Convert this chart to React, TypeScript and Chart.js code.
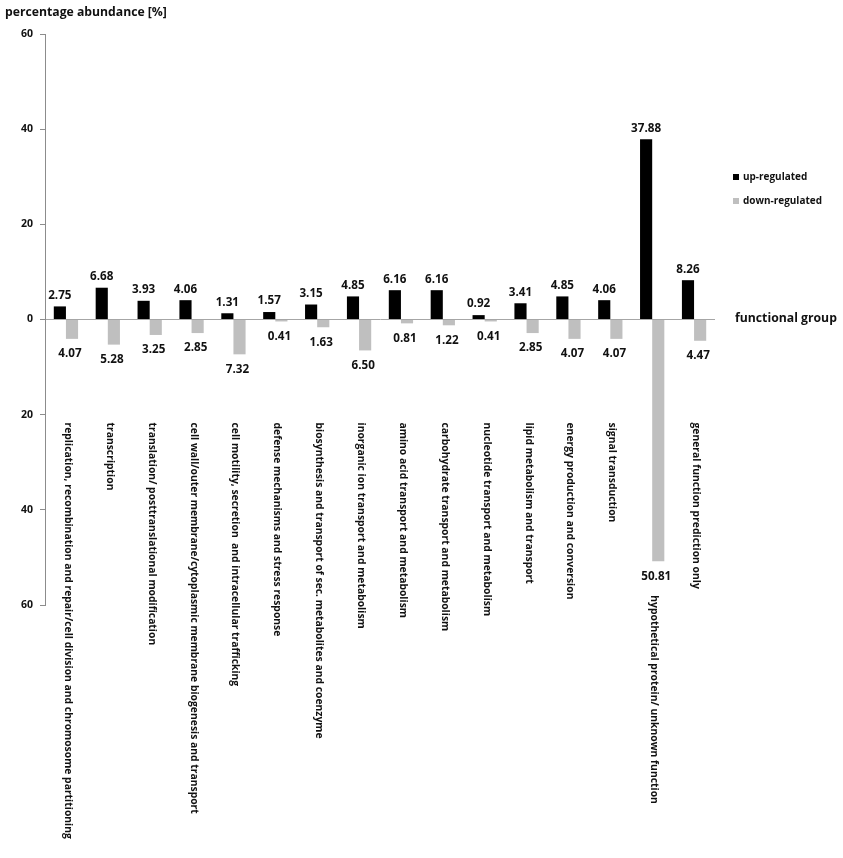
import { useEffect, useRef } from 'react';
import { Chart, registerables, Plugin } from 'chart.js';

Chart.register(...registerables);

const categories = [
    'replication, recombination and repair/cell division and chromosome partitioning',
    'transcription',
    'translation/ posttranslational modification',
    'cell wall/outer membrane/cytoplasmic membrane biogenesis and transport',
    'cell motility, secretion  and intracellular trafficking',
    'defense mechanisms and stress response',
    'biosynthesis and transport of sec. metabolites and coenzyme',
    'inorganic ion transport and metabolism',
    'amino acid transport and metabolism',
    'carbohydrate transport and metabolism',
    'nucleotide transport and metabolism',
    'lipid metabolism and transport',
    'energy production and conversion',
    'signal transduction',
    'hypothetical protein/ unknown function',
    'general function prediction only',
];

const upRegulated = [2.75, 6.68, 3.93, 4.06, 1.31, 1.57, 3.15, 4.85, 6.16, 6.16, 0.92, 3.41, 4.85, 4.06, 37.88, 8.26];
const downRegulated = [4.07, 5.28, 3.25, 2.85, 7.32, 0.41, 1.63, 6.50, 0.81, 1.22, 0.41, 2.85, 4.07, 4.07, 50.81, 4.47];

const seriesNames = ['up-regulated', 'down-regulated'];
const seriesColors = ['#000000', '#bfbfbf'];
const yTickValues = [-60, -40, -20, 0, 20, 40, 60];

const FONT = '"Open Sans", Lato, sans-serif';

// pick a font size so that a sample string comes out at the width seen in the picture
const fitSize = (ctx: CanvasRenderingContext2D, text: string, width: number) => {
    ctx.font = `bold 10px ${FONT}`;
    return (10 * width) / ctx.measureText(text).width;
};

const annotations: Plugin<'bar'> = {
    id: 'annotations',
    afterDatasetsDraw(chart) {
        const ctx = chart.ctx;
        const yScale = chart.scales.y;
        const zeroY = yScale.getPixelForValue(0);
        ctx.save();
        const valueSize = fitSize(ctx, '37.88', 30);
        const catSize = fitSize(ctx, categories[0], 417);
        const titleSize = fitSize(ctx, 'percentage abundance [%]', 162);
        const groupSize = fitSize(ctx, 'functional group', 102);
        const legendSize = fitSize(ctx, seriesNames[1], 79);

        ctx.fillStyle = '#111';
        ctx.textAlign = 'center';
        ctx.textBaseline = 'middle';
        ctx.font = `bold ${valueSize}px ${FONT}`;

        // value labels
        const upMeta = chart.getDatasetMeta(0);
        const downMeta = chart.getDatasetMeta(1);
        const downLabelY: number[] = [];
        upMeta.data.forEach((bar, i) => {
            ctx.fillText(upRegulated[i].toFixed(2), bar.x, bar.y - 11);
        });
        downMeta.data.forEach((bar, i) => {
            const ly = bar.y + 15;
            downLabelY.push(ly);
            ctx.fillText(downRegulated[i].toFixed(2), bar.x - 2, ly);
        });

        // category labels, rotated to read downwards
        const xScale = chart.scales.x;
        const bandTop = zeroY + 103;
        ctx.textAlign = 'left';
        ctx.font = `bold ${catSize}px ${FONT}`;
        categories.forEach((name, i) => {
            const x = xScale.getPixelForValue(i) + 2;
            const y = Math.max(bandTop, downLabelY[i] + 19);
            ctx.save();
            ctx.translate(x, y);
            ctx.rotate(Math.PI / 2);
            ctx.fillText(name, 0, 0);
            ctx.restore();
        });

        // axis titles
        ctx.font = `bold ${titleSize}px ${FONT}`;
        ctx.fillText('percentage abundance [%]', 5, 13);
        ctx.font = `bold ${groupSize}px ${FONT}`;
        ctx.fillText('functional group', 735, zeroY - 1);

        // legend
        ctx.font = `bold ${legendSize}px ${FONT}`;
        seriesNames.forEach((name, i) => {
            const cy = 177 + i * 24;
            ctx.fillStyle = seriesColors[i];
            ctx.fillRect(733, cy - 3, 6, 6);
            ctx.fillStyle = '#111';
            ctx.fillText(name, 743, cy);
        });
        ctx.restore();
    },
};

const App = () => {
    const canvasRef = useRef<HTMLCanvasElement | null>(null);
    const chartRef = useRef<Chart | null>(null);

    useEffect(() => {
        if (!canvasRef.current) return;
        if (chartRef.current) chartRef.current.destroy();
        const ctx = canvasRef.current.getContext('2d');
        if (!ctx) return;

        chartRef.current = new Chart(ctx, {
            type: 'bar',
            data: {
                labels: categories,
                datasets: [
                    {
                        label: seriesNames[0],
                        data: upRegulated,
                        backgroundColor: seriesColors[0],
                        categoryPercentage: 0.58,
                        barPercentage: 1,
                    },
                    {
                        label: seriesNames[1],
                        data: downRegulated.map((v) => -v),
                        backgroundColor: seriesColors[1],
                        categoryPercentage: 0.58,
                        barPercentage: 1,
                    },
                ],
            },
            options: {
                animation: false,
                responsive: true,
                maintainAspectRatio: false,
                layout: {
                    padding: { left: 0, right: 128, top: 34, bottom: 253 },
                },
                plugins: {
                    legend: { display: false },
                    tooltip: { enabled: false },
                },
                scales: {
                    x: {
                        display: false,
                    },
                    y: {
                        min: -60,
                        max: 60,
                        afterFit: (scale) => {
                            scale.width = 45;
                        },
                        afterBuildTicks: (scale) => {
                            scale.ticks = yTickValues.map((v) => ({ value: v }));
                        },
                        border: { display: true, color: '#8c8c8c' },
                        grid: {
                            color: (c) => (c.tick && c.tick.value === 0 ? '#a6a6a6' : 'rgba(0,0,0,0)'),
                            tickColor: '#8c8c8c',
                            tickLength: 5,
                        },
                        ticks: {
                            padding: 7,
                            color: '#111',
                            font: { family: FONT, size: 10.5, weight: 'bold' },
                            callback: (v) => String(Math.abs(Number(v))),
                        },
                    },
                },
            },
            plugins: [annotations],
        });

        return () => {
            if (chartRef.current) {
                chartRef.current.destroy();
                chartRef.current = null;
            }
        };
    }, []);

    return (
        <div style={{ position: 'absolute', left: 0, top: 0, width: 843, height: 858, background: '#fff' }}>
            <canvas ref={canvasRef}></canvas>
        </div>
    );
};

export default App;
